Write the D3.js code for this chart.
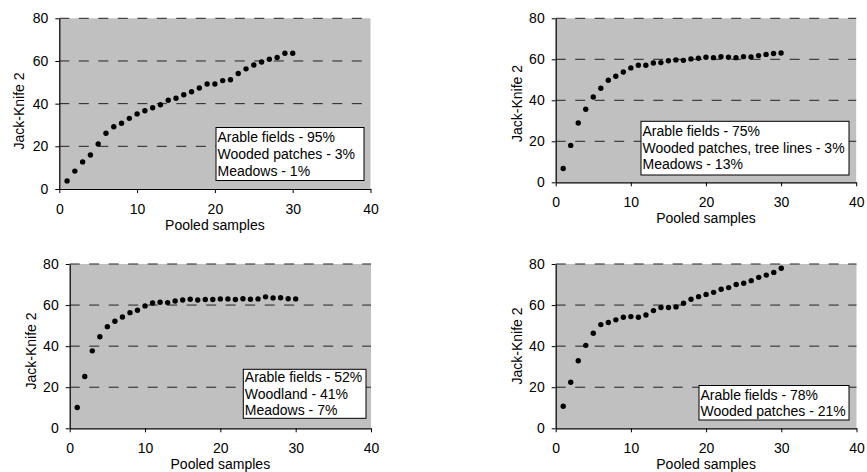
<!DOCTYPE html>
<html><head><meta charset="utf-8">
<script src="https://cdn.jsdelivr.net/npm/d3@7"></script>
<style>
body{margin:0;background:#fff;}
svg{display:block;font-family:"Liberation Sans",Arial,sans-serif;}
</style></head><body>
<svg id="c" width="867" height="472"></svg>
<script>
const samples = d3.range(1, 31);
const xTicks = [0, 10, 20, 30, 40];
const yTicks = [0, 20, 40, 60, 80];
const xTitle = "Pooled samples";
const yTitle = "Jack-Knife 2";

const seriesA = [3.8,8.4,12.7,15.9,21.1,26.1,29.2,30.8,33.1,35.2,36.7,38.1,39.5,41.6,42.5,44.2,45.6,47.3,49.2,49.2,50.8,51.2,54.1,56.3,58.1,59.5,60.8,61.6,63.6,63.6];
const seriesB = [6.7,18.0,28.9,35.6,41.6,45.9,49.8,51.7,53.8,55.8,57.1,57.1,58.2,58.4,59.3,59.7,59.5,60.2,60.5,61.0,60.8,61.3,61.0,60.8,61.3,61.1,61.8,62.4,62.8,63.1];
const seriesC = [10.1,25.2,37.7,44.6,49.5,52.1,54.2,56.3,57.5,59.6,61.0,61.4,61.2,62.0,62.5,62.8,62.5,62.7,62.7,63.0,63.0,62.7,63.1,62.8,63.0,64.0,63.5,63.6,63.1,63.0];
const seriesD = [10.7,22.4,32.9,40.4,46.3,50.5,51.5,52.8,54.1,54.4,54.1,55.2,57.3,58.8,58.8,59.1,60.9,62.8,64.1,65.2,66.2,67.7,68.5,70.0,70.6,71.9,73.5,74.6,75.9,77.9];

const legendA = ["Arable fields - 95%", "Wooded patches - 3%", "Meadows - 1%"];
const legendB = ["Arable fields - 75%", "Wooded patches, tree lines - 3%", "Meadows - 13%"];
const legendC = ["Arable fields - 52%", "Woodland - 41%", "Meadows - 7%"];
const legendD = ["Arable fields - 78%", "Wooded patches - 21%"];

const panels = [
  {vals: seriesA, legend: legendA, l:59.3, r:370.5, t:18.3, b:189,   box:{x:216, y:127.5, w:148, h:53, t0:9.2, dy:17.3},  ylx:19,    yly:111},
  {vals: seriesB, legend: legendB, l:555.7, r:856.2, t:18.3, b:182.3, box:{x:641, y:121.3, w:208, h:53.7, t0:9.4, dy:16.9}, ylx:517.3, yly:103.5},
  {vals: seriesC, legend: legendC, l:69.7, r:371, t:264, b:428.3,    box:{x:243.3, y:369.3, w:122.7, h:49, t0:7.5, dy:16.8}, ylx:31,    yly:351},
  {vals: seriesD, legend: legendD, l:555.7, r:856.5, t:264, b:428.3, box:{x:699, y:385.5, w:150, h:34.5, t0:9.3, dy:16}, ylx:517.3, yly:346}
];

const svg = d3.select("#c");
const FS = 14;

panels.forEach(p => {
  const x = d3.scaleLinear().domain([0, 40]).range([p.l, p.r]);
  const y = d3.scaleLinear().domain([0, 80]).range([p.b, p.t]);
  const g = svg.append("g");

  g.append("rect").attr("x", p.l).attr("y", p.t).attr("width", p.r - p.l).attr("height", p.b - p.t)
    .attr("fill", "#c0c0c0");

  g.selectAll("line.grid").data(yTicks.filter(v => v > 0)).join("line")
    .attr("x1", p.l).attr("x2", p.r).attr("y1", d => y(d)).attr("y2", d => y(d))
    .attr("stroke", "#222").attr("stroke-width", 1).attr("stroke-dasharray", "10,9.5");

  const ax = g.append("g").attr("transform", `translate(0,${p.b})`)
    .call(d3.axisBottom(x).tickValues(xTicks).tickSize(4).tickPadding(11).tickSizeOuter(0).tickFormat(d3.format("d")));
  const ay = g.append("g").attr("transform", `translate(${p.l},0)`)
    .call(d3.axisLeft(y).tickValues(yTicks).tickSize(4).tickPadding(7).tickSizeOuter(0).tickFormat(d3.format("d")));
  [ax, ay].forEach(a => {
    a.select(".domain").attr("stroke", "#000").attr("stroke-width", 1.2);
    a.selectAll(".tick line").attr("stroke", "#000");
    a.selectAll(".tick text").attr("font-size", FS).attr("fill", "#000")
      .attr("font-family", "Liberation Sans, Arial, sans-serif");
  });

  g.selectAll("circle").data(p.vals).join("circle")
    .attr("cx", (d, i) => x(samples[i])).attr("cy", d => y(d)).attr("r", 2.7).attr("fill", "#000");

  const lb = g.append("g");
  lb.append("rect").attr("x", p.box.x).attr("y", p.box.y).attr("width", p.box.w).attr("height", p.box.h)
    .attr("fill", "#fff").attr("stroke", "#000").attr("stroke-width", 1);
  lb.selectAll("text").data(p.legend).join("text")
    .attr("x", p.box.x + 1.5).attr("y", (d, i) => p.box.y + p.box.t0 + i * p.box.dy)
    .attr("dy", "0.35em").attr("font-size", FS).attr("fill", "#000").text(d => d);

  g.append("text").attr("x", (p.l + p.r) / 2).attr("y", p.b + 41).attr("text-anchor", "middle")
    .attr("font-size", FS).attr("fill", "#000").text(xTitle);
  g.append("text").attr("transform", `translate(${p.ylx},${p.yly}) rotate(-90)`)
    .attr("text-anchor", "middle").attr("dy", "0.35em").attr("font-size", FS).attr("fill", "#000").text(yTitle);
});
</script>
</body></html>
